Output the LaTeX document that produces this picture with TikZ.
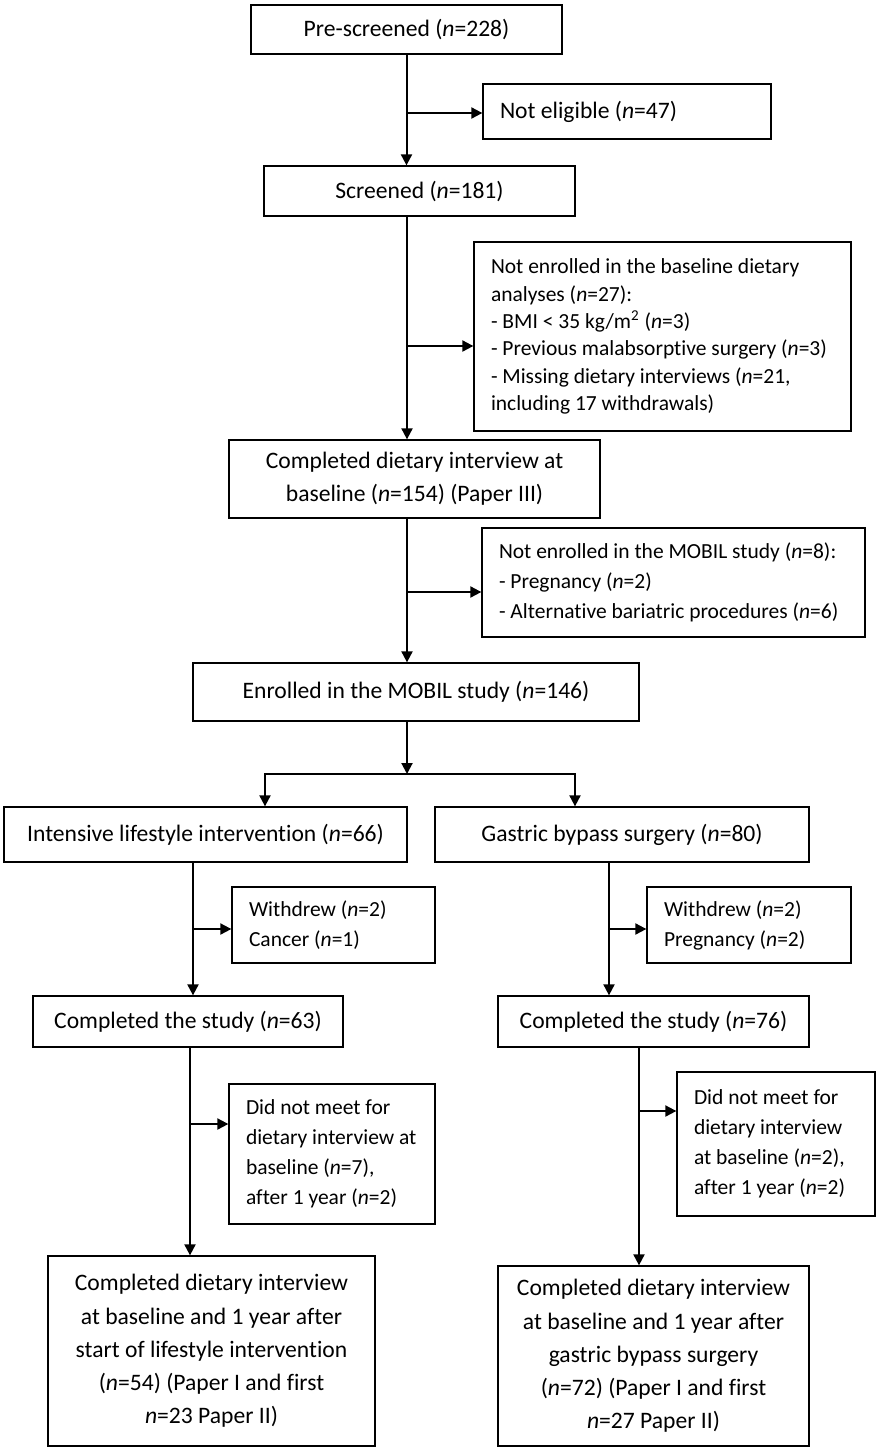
\documentclass[tikz,border=0pt]{standalone}
\usepackage{fontspec}
\setmainfont{Carlito}[Ligatures=NoCommon]
\usetikzlibrary{arrows.meta}

\begin{document}
\begin{tikzpicture}[x=0.5pt, y=-0.5pt,
    box/.style={draw, line width=0.65pt, inner sep=0pt, align=center, font=\fontsize{11.8}{16.6}\selectfont},
    side/.style={draw, line width=0.65pt, inner xsep=8.5pt, inner ysep=0pt, align=flush left, font=\fontsize{10.75}{15}\selectfont},
    arr/.style={line width=1pt, -{Triangle[length=5.5pt, width=5.5pt]}}]
\useasboundingbox (0,0) rectangle (876,1447);

\node[box, minimum width=155.5pt, minimum height=24.5pt] (pre) at (406.5,29.5) {Pre-screened (\textit{n}=228)};
\node[side, text width=127pt, minimum height=27.5pt, font=\fontsize{11.8}{15}\selectfont] (noteli) at (627,111.5) {Not eligible (\textit{n}=47)};
\node[box, minimum width=155.5pt, minimum height=25pt] (scr) at (419.5,191) {Screened (\textit{n}=181)};
\node[side, text width=171.5pt, minimum height=94.5pt, font=\fontsize{10.75}{13.7}\selectfont] (notbase) at (662.5,336.5)
    {Not enrolled in the baseline dietary\\analyses (\textit{n}=27):\\- BMI < 35 kg/m\textsuperscript{2} (\textit{n}=3)\\- Previous malabsorptive surgery (\textit{n}=3)\\- Missing dietary interviews (\textit{n}=21,\\including 17 withdrawals)};
\node[box, minimum width=185.5pt, minimum height=39pt] (compbase) at (414.5,479) {Completed dietary interview at\\baseline (\textit{n}=154) (Paper III)};
\node[side, text width=174.5pt, minimum height=54.5pt] (notmobil) at (673.5,582.5)
    {Not enrolled in the MOBIL study (\textit{n}=8):\\- Pregnancy (\textit{n}=2)\\- Alternative bariatric procedures (\textit{n}=6)};
\node[box, minimum width=223pt, minimum height=29pt] (enrol) at (416,692) {Enrolled in the MOBIL study (\textit{n}=146)};
\node[box, minimum width=201.5pt, minimum height=27.5pt] (ili) at (205.5,834.5) {Intensive lifestyle intervention (\textit{n}=66)};
\node[box, minimum width=187pt, minimum height=27.5pt] (gbp) at (622,834.5) {Gastric bypass surgery (\textit{n}=80)};
\node[side, text width=84.5pt, minimum height=38pt] (wdL) at (333.5,925) {Withdrew (\textit{n}=2)\\Cancer (\textit{n}=1)};
\node[side, text width=85pt, minimum height=38pt] (wdR) at (749,925) {Withdrew (\textit{n}=2)\\Pregnancy (\textit{n}=2)};
\node[box, minimum width=155pt, minimum height=25.5pt] (compL) at (188,1021.5) {Completed the study (\textit{n}=63)};
\node[box, minimum width=155.5pt, minimum height=25.5pt] (compR) at (653.5,1021.5) {Completed the study (\textit{n}=76)};
\node[side, text width=86pt, minimum height=70pt] (dnmL) at (332,1154)
    {Did not meet for\\dietary~interview~at\\baseline (\textit{n}=7),\\after 1 year (\textit{n}=2)};
\node[side, text width=82pt, minimum height=72pt] (dnmR) at (776,1144)
    {Did not meet for\\dietary interview\\at baseline (\textit{n}=2),\\after 1 year (\textit{n}=2)};
\node[box, minimum width=163.5pt, minimum height=95pt] (finL) at (211.5,1351)
    {Completed dietary interview\\at baseline and 1 year after\\start of lifestyle intervention\\(\textit{n}=54) (Paper I and first\\\textit{n}=23 Paper II)};
\node[box, minimum width=155.5pt, minimum height=90pt] (finR) at (653.5,1356)
    {Completed dietary interview\\at baseline and 1 year after\\gastric bypass surgery\\(\textit{n}=72) (Paper I and first\\\textit{n}=27 Paper II)};

\coordinate (b1) at (406.5,113);
\coordinate (b2) at (407,346);
\coordinate (b3) at (407,592);
\coordinate (split) at (407,774);
\coordinate (sL) at (265,774);
\coordinate (sR) at (575,774);
\coordinate (b4) at (193,929);
\coordinate (b5) at (609,929);
\coordinate (b6) at (190,1124);
\coordinate (b7) at (639,1111);

\draw[arr] (pre) -- (pre |- scr.north);
\draw[arr] (b1) -- (b1 -| noteli.west);
\draw[arr] (scr.south -| b2) -- (compbase.north -| b2);
\draw[arr] (b2) -- (b2 -| notbase.west);
\draw[arr] (compbase.south -| b3) -- (enrol.north -| b3);
\draw[arr] (b3) -- (b3 -| notmobil.west);
\draw[arr] (enrol.south -| split) -- (split);
\draw[arr, {Triangle[length=5.5pt, width=5.5pt]}-{Triangle[length=5.5pt, width=5.5pt]}] (sL |- ili.north) -- (sL) -- (sR) -- (sR |- gbp.north);
\draw[arr] (ili.south -| b4) -- (compL.north -| b4);
\draw[arr] (b4) -- (b4 -| wdL.west);
\draw[arr] (gbp.south -| b5) -- (compR.north -| b5);
\draw[arr] (b5) -- (b5 -| wdR.west);
\draw[arr] (compL.south -| b6) -- (finL.north -| b6);
\draw[arr] (b6) -- (b6 -| dnmL.west);
\draw[arr] (compR.south -| b7) -- (finR.north -| b7);
\draw[arr] (b7) -- (b7 -| dnmR.west);
\end{tikzpicture}
\end{document}
